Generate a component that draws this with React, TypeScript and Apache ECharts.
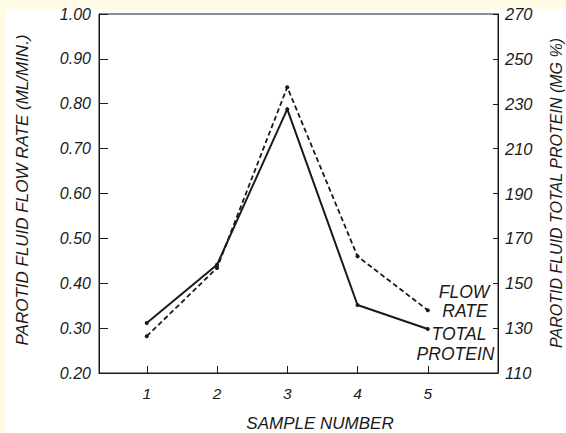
import { useEffect, useRef } from "react";
import * as echarts from "echarts";

const samples = [1, 2, 3, 4, 5];
const flowRate = [0.282, 0.434, 0.837, 0.46, 0.34];
const totalProtein = [132.3, 158.2, 227.6, 140.3, 129.6];
const flowTicks = [0.2, 0.3, 0.4, 0.5, 0.6, 0.7, 0.8, 0.9, 1.0];
const proteinTicks = [110, 130, 150, 170, 190, 210, 230, 250, 270];
const sampleTicks = [1, 2, 3, 4, 5];

const INK = "#1a1a1a";
const FONT = "'Liberation Sans', Arial, sans-serif";

export default function App() {
  const ref = useRef<HTMLDivElement>(null);
  useEffect(() => {
    if (!ref.current) return;
    const chart = echarts.init(ref.current, undefined, { renderer: "svg" });
    const txt = (text: string, x: number, y: number, size: number, rot = 0) => ({
      type: "text",
      x,
      y,
      rotation: rot,
      style: {
        text,
        fill: INK,
        font: `italic ${size}px ${FONT}`,
        textAlign: "center",
        textVerticalAlign: "middle",
      },
    });
    chart.setOption({
      animation: false,
      backgroundColor: "transparent",
      grid: {
        left: 99,
        top: 14,
        right: 68,
        bottom: 60,
        show: true,
        borderColor: INK,
        borderWidth: 1,
        backgroundColor: "transparent",
      },
      xAxis: {
        type: "value",
        min: 0.32,
        max: 6.0,
        axisLine: { show: true, lineStyle: { color: INK, width: 1 } },
        axisTick: { show: true, inside: true, length: 7, customValues: sampleTicks, lineStyle: { color: INK } },
        axisLabel: {
          show: true,
          customValues: sampleTicks,
          margin: 12,
          color: INK,
          fontFamily: FONT,
          fontStyle: "italic",
          fontSize: 15.5,
          formatter: (v: number) => String(v),
        },
        splitLine: { show: false },
      },
      yAxis: [
        {
          type: "value",
          position: "left",
          min: 0.2,
          max: 1.0,
          axisLine: { show: true, lineStyle: { color: INK, width: 1 } },
          axisTick: { show: true, inside: true, length: 9, customValues: flowTicks, lineStyle: { color: INK } },
          axisLabel: {
            customValues: flowTicks,
            margin: 8,
            color: INK,
            fontFamily: FONT,
            fontStyle: "italic",
            fontSize: 16,
            formatter: (v: number) => v.toFixed(2),
          },
          splitLine: { show: false },
        },
        {
          type: "value",
          position: "right",
          min: 110,
          max: 270,
          axisLine: { show: true, lineStyle: { color: INK, width: 1 } },
          axisTick: { show: true, inside: true, length: 5, customValues: proteinTicks, lineStyle: { color: INK } },
          axisLabel: {
            customValues: proteinTicks,
            margin: 7,
            color: INK,
            fontFamily: FONT,
            fontStyle: "italic",
            fontSize: 16.5,
            formatter: (v: number) => String(v),
          },
          splitLine: { show: false },
        },
      ],
      series: [
        {
          name: "FLOW RATE",
          type: "line",
          yAxisIndex: 0,
          data: samples.map((s, i) => [s, flowRate[i]]),
          symbol: "circle",
          symbolSize: 4,
          itemStyle: { color: INK },
          lineStyle: { color: INK, width: 1.8, type: [5, 3] },
        },
        {
          name: "TOTAL PROTEIN",
          type: "line",
          yAxisIndex: 1,
          data: samples.map((s, i) => [s, totalProtein[i]]),
          symbol: "circle",
          symbolSize: 4,
          itemStyle: { color: INK },
          lineStyle: { color: INK, width: 2 },
        },
      ],
      graphic: [
        txt("PAROTID FLUID FLOW RATE (ML/MIN.)", 22, 190, 17, Math.PI / 2),
        txt("PAROTID FLUID TOTAL PROTEIN (MG %)", 556, 193, 16, Math.PI / 2),
        txt("SAMPLE NUMBER", 320, 423, 17),
        txt("FLOW", 464, 292, 17.5),
        txt("RATE", 465, 311, 17.5),
        txt("TOTAL", 459, 333.5, 17.5),
        txt("PROTEIN", 455.5, 353.5, 17.5),
      ],
    });
    return () => chart.dispose();
  }, []);

  return (
    <div style={{ position: "fixed", left: 0, top: 0, width: 566, height: 433, background: "#FFFAE6", overflow: "hidden" }}>
      <div style={{ position: "absolute", left: 5, top: 9, right: 0, bottom: 0, background: "#ffffff" }} />
      <div ref={ref} style={{ position: "absolute", left: 0, top: 0, width: 566, height: 433 }} />
    </div>
  );
}
